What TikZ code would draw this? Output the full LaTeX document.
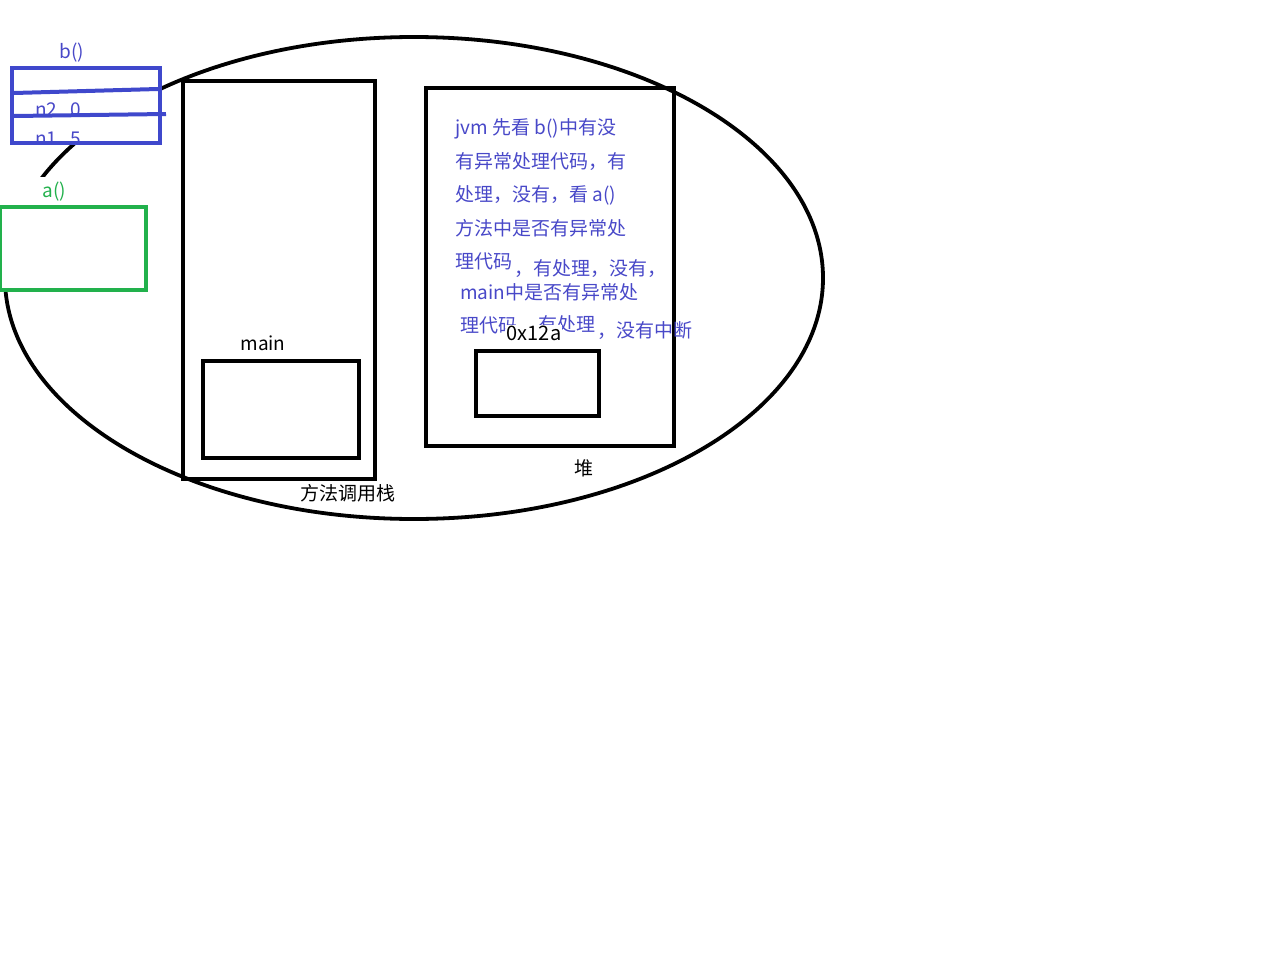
\documentclass[tikz,border=0pt]{standalone}
\usepackage{fontspec}
\setmainfont{Noto Sans CJK SC}
\usetikzlibrary{shapes.geometric}
\definecolor{pblue}{RGB}{63,72,204}
\definecolor{tblue}{RGB}{72,72,200}
\definecolor{pgreen}{RGB}{34,177,76}
\tikzset{
  box/.style={draw, line width=4.5pt, inner sep=0pt, outer sep=0pt, anchor=north west},
  lbl/.style={inner sep=0pt, font=\fontsize{19}{22}\selectfont},
  note/.style={inner sep=0pt, anchor=west, text=tblue, font=\fontsize{19}{22}\selectfont},
}
\begin{document}
\begin{tikzpicture}[x=1pt,y=-1pt]
\useasboundingbox (0,0) rectangle (1261,953);
% big ellipse
\node[ellipse, draw, line width=3.8pt, minimum width=818pt, minimum height=482pt, inner sep=0pt, outer sep=0pt] (ell) at (414,278) {};
% method call stack
\node[box, minimum width=192pt, minimum height=398pt] (stack) at (183,81) {};
\node[box, minimum width=156pt, minimum height=97pt] (mainbox) at (203,361) {};
\node[lbl] (mainlbl) at (263,343) {main};
\node[lbl] (stacklbl) at (348,493) {方法调用栈};
% heap
\node[box, minimum width=248pt, minimum height=358pt] (heap) at (426,88) {};
\node[box, minimum width=123pt, minimum height=65pt] (obj) at (476,351) {};
\node[lbl] (heaplbl) at (584,468) {堆};
% explanation text
\node[note] (t1) at (455,129) {jvm 先看 b()中有没};
\node[note] (t2) at (455,162) {有异常处理代码，有};
\node[note] (t3) at (455,195) {处理，没有，看 a()};
\node[note] (t4) at (455,228) {方法中是否有异常处};
\node[note] (t5) at (455,261) {理代码};
\node[note] (t6) at (514,269) {，有处理，没有，};
\node[note] (t7) at (460,292) {main中是否有异常处};
\node[note] (t8) at (460,325) {理代码};
\node[note] (t9) at (519,325) {，有处理};
\node[note] (t10) at (597,331) {，没有中断};
\node[lbl, fill=white, inner sep=1pt, font=\fontsize{20}{23}\selectfont] (addr) at (534,333) {0x12a};
% b() frame
\node[lbl, text=tblue] (blbl) at (72,53) {b()};
\node[box, draw=pblue, fill=white, minimum width=148pt, minimum height=75pt] (bbox) at (12,68) {};
\begin{scope}
\clip (12,68) rectangle (160,143);
\node[lbl, text=tblue, anchor=west] (n2) at (35,110) {n2\ \ \ 0};
\node[lbl, text=tblue, anchor=west] (n1) at (35,139) {n1\ \ \ 5};
\end{scope}
\coordinate (s1a) at (14,93);
\coordinate (s1b) at (158,89);
\coordinate (s2a) at (14,116);
\coordinate (s2b) at (166,114);
\draw[pblue, line width=4pt] (s1a) -- (s1b);
\draw[pblue, line width=4pt] (s2a) -- (s2b);
\node[box, draw=pblue, minimum width=148pt, minimum height=75pt] (bbox2) at (12,68) {};
% a() frame
\node[lbl, text=pgreen, fill=white, minimum height=30pt, text width=70pt, align=right] (albl) at (40,192) {a()\hspace*{9pt}};
\node[box, draw=pgreen, fill=white, minimum width=146pt, minimum height=83pt] (abox) at (0,207) {};
\end{tikzpicture}
\end{document}
